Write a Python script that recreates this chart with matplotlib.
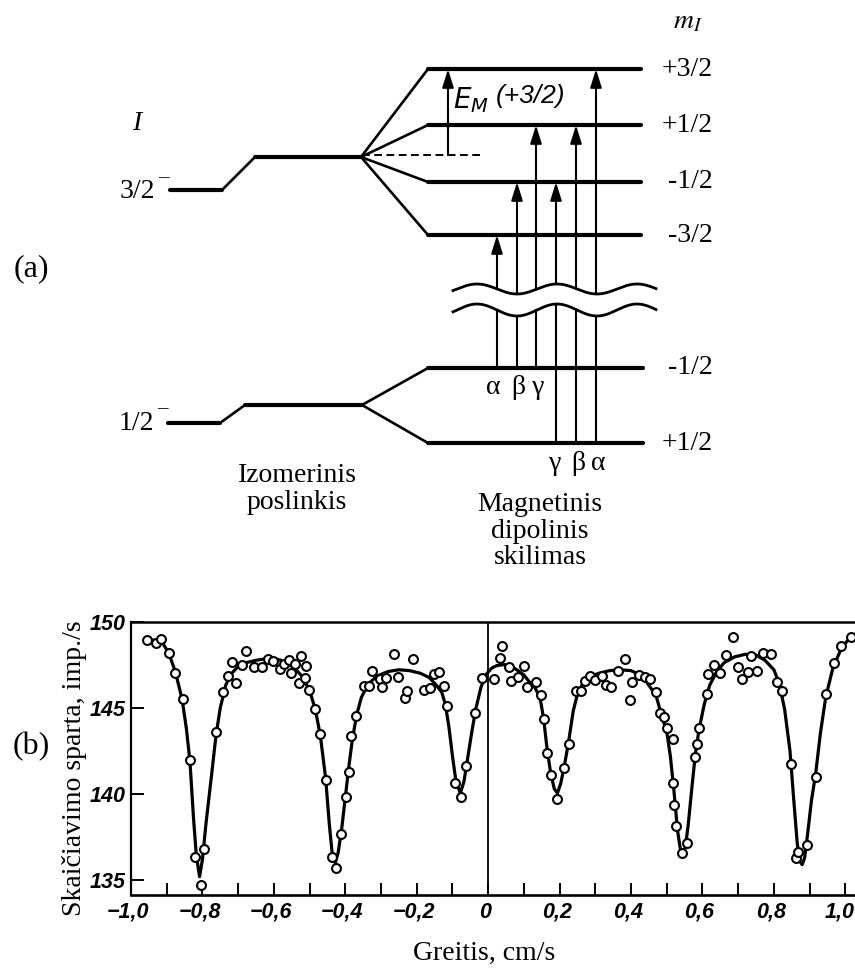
import numpy as np
import matplotlib
matplotlib.use("Agg")
import matplotlib.pyplot as plt
import matplotlib.transforms as mtransforms
from matplotlib.ticker import FixedLocator, FixedFormatter
from matplotlib.font_manager import FontProperties

plt.rcParams['font.family'] = ['Liberation Serif', 'DejaVu Serif']

# ---------------- Mössbauer spectrum (velocity, cm/s ; count rate, imp./s)
vel_pts = [-0.955, -0.931, -0.915, -0.894, -0.876, -0.855, -0.835, -0.822, -0.805, -0.796,
           -0.762, -0.742, -0.728, -0.717, -0.705, -0.690, -0.678, -0.656, -0.633, -0.616,
           -0.602, -0.582, -0.572, -0.558, -0.552, -0.540, -0.524, -0.529, -0.512, -0.510,
           -0.503, -0.484, -0.470, -0.453, -0.437, -0.425, -0.412, -0.399, -0.390, -0.384,
           -0.369, -0.349, -0.335, -0.325, -0.304, -0.297, -0.285, -0.265, -0.252, -0.232,
           -0.227, -0.211, -0.181, -0.164, -0.153, -0.139, -0.123, -0.116, -0.094, -0.076,
           -0.062, -0.038, -0.018, 0.015, 0.034, 0.040, 0.057, 0.064, 0.083, 0.101,
           0.110, 0.134, 0.147, 0.155, 0.166, 0.176, 0.194, 0.213, 0.226, 0.246,
           0.259, 0.271, 0.285, 0.299, 0.318, 0.329, 0.344, 0.363, 0.383, 0.402,
           0.397, 0.422, 0.439, 0.453, 0.469, 0.481, 0.493, 0.500, 0.517, 0.518,
           0.521, 0.526, 0.543, 0.556, 0.579, 0.584, 0.591, 0.612, 0.616, 0.632,
           0.649, 0.666, 0.686, 0.700, 0.711, 0.728, 0.736, 0.754, 0.770, 0.791,
           0.810, 0.823, 0.849, 0.863, 0.868, 0.893, 0.917, 0.945, 0.968, 0.989,
           1.015]
rate_pts = [148.93, 148.74, 148.97, 148.19, 147.00, 145.50, 141.97, 136.32, 134.72, 136.78,
            143.57, 145.90, 146.86, 147.67, 146.45, 147.48, 148.29, 147.38, 147.38, 147.80,
            147.73, 147.24, 147.53, 147.77, 147.00, 147.52, 148.00, 146.45, 146.70, 147.44,
            146.03, 144.91, 143.46, 140.81, 136.36, 135.68, 137.67, 139.80, 141.29, 143.36,
            144.54, 146.26, 146.26, 147.15, 146.67, 146.18, 146.74, 148.10, 146.76, 145.55,
            145.99, 147.82, 146.03, 146.12, 146.95, 147.09, 146.28, 145.10, 140.65, 139.80,
            141.64, 144.67, 146.70, 146.67, 147.87, 148.60, 147.34, 146.57, 146.80, 147.44,
            146.18, 146.47, 145.74, 144.33, 142.36, 141.10, 139.69, 141.48, 142.88, 145.99,
            145.99, 146.57, 146.84, 146.60, 146.86, 146.32, 146.22, 147.15, 147.80, 146.51,
            145.45, 146.90, 146.80, 146.67, 145.93, 144.67, 144.48, 143.84, 143.18, 140.61,
            139.36, 138.14, 136.55, 137.13, 142.16, 142.89, 143.80, 145.79, 146.95, 147.48,
            147.03, 148.06, 149.08, 147.38, 146.67, 147.05, 148.00, 147.15, 148.19, 148.10,
            146.51, 145.99, 141.73, 136.26, 136.61, 137.04, 140.96, 145.77, 147.57, 148.60,
            149.08]

fit_vel = [-0.955, -0.93, -0.91, -0.895, -0.876, -0.857, -0.845, -0.835, -0.825, -0.817,
           -0.808, -0.800, -0.79, -0.775, -0.762, -0.75, -0.735, -0.72, -0.70, -0.68,
           -0.65, -0.62, -0.60, -0.58, -0.56, -0.54, -0.52, -0.50, -0.484, -0.47,
           -0.455, -0.445, -0.437, -0.428, -0.420, -0.41, -0.40, -0.39, -0.38, -0.368,
           -0.355, -0.335, -0.31, -0.28, -0.25, -0.22, -0.19, -0.165, -0.145, -0.13,
           -0.12, -0.11, -0.10, -0.09, -0.078, -0.068, -0.058, -0.045, -0.035, -0.02,
           -0.005, 0.01, 0.025, 0.045, 0.065, 0.08, 0.10, 0.115, 0.13, 0.145,
           0.155, 0.165, 0.175, 0.185, 0.194, 0.203, 0.213, 0.225, 0.238, 0.25,
           0.265, 0.285, 0.31, 0.34, 0.37, 0.40, 0.42, 0.44, 0.455, 0.47,
           0.485, 0.50, 0.51, 0.52, 0.53, 0.538, 0.545, 0.552, 0.56, 0.57,
           0.58, 0.59, 0.605, 0.62, 0.64, 0.66, 0.69, 0.72, 0.75, 0.775,
           0.80, 0.815, 0.83, 0.845, 0.855, 0.865, 0.872, 0.879, 0.886, 0.895,
           0.905, 0.917, 0.93, 0.945, 0.965, 0.99, 1.015, 1.03]
fit_rate = [148.95, 148.90, 148.70, 148.20, 147.10, 145.50, 143.80, 141.90, 138.60, 136.40,
            135.20, 136.20, 138.30, 141.00, 143.40, 145.00, 146.30, 146.95, 147.40, 147.60,
            147.75, 147.85, 147.85, 147.75, 147.55, 147.25, 146.80, 146.00, 144.90, 143.40,
            140.90, 138.30, 136.60, 136.00, 136.60, 138.00, 139.80, 141.60, 143.20, 144.60,
            145.60, 146.40, 146.85, 147.10, 147.20, 147.15, 147.00, 146.75, 146.30, 145.90,
            145.20, 143.90, 142.20, 140.70, 140.05, 140.70, 142.00, 143.70, 144.90, 146.20,
            146.95, 147.30, 147.45, 147.50, 147.40, 147.20, 146.90, 146.50, 146.20, 145.60,
            144.40, 142.60, 141.20, 140.30, 140.05, 140.60, 141.60, 143.00, 144.80, 145.80,
            146.40, 146.80, 147.00, 147.15, 147.20, 147.15, 146.95, 146.60, 146.15, 145.70,
            144.60, 143.60, 142.20, 140.20, 137.90, 136.80, 136.55, 136.90, 138.20, 140.30,
            142.30, 143.70, 145.20, 146.30, 147.10, 147.60, 147.95, 148.10, 148.05, 147.75,
            147.20, 146.40, 144.90, 142.50, 139.80, 137.20, 136.10, 135.90, 136.30, 137.80,
            139.60, 141.20, 143.50, 145.60, 147.30, 148.50, 149.10, 149.30]

xtick_major = [-1.0, -0.8, -0.6, -0.4, -0.2, 0.0, 0.2, 0.4, 0.6, 0.8, 1.0]
xtick_labels = ["\u22121,0", "\u22120,8", "\u22120,6", "\u22120,4", "\u22120,2",
                "0", "0,2", "0,4", "0,6", "0,8", "1,0"]
xtick_minor = [-0.9, -0.7, -0.5, -0.3, -0.1, 0.1, 0.3, 0.5, 0.7, 0.9]
ytick_vals = [135, 140, 145, 150]
ytick_labels = ["135", "140", "145", "150"]

# ---------------- level scheme of the nucleus (pixel units of the drawing area)
excited_labels = ["+3/2", "+1/2", "-1/2", "-3/2"]
excited_y = [69, 125, 182, 235]
ground_labels = ["-1/2", "+1/2"]
ground_y = [368, 443]
trans_x = [497, 517, 536, 556, 576, 596]
trans_ground = [0, 0, 0, 1, 1, 1]
trans_excited = [3, 2, 1, 2, 1, 0]
greek_ground_first = ["\u03b1", "\u03b2", "\u03b3"]
greek_ground_second = ["\u03b3", "\u03b2", "\u03b1"]

LW_LEVEL = 3.0
LW_SLANT = 1.9
LW_ARROW = 1.5
FS = 20

fig = plt.figure(figsize=(8.55, 9.68), dpi=100)
fig.patch.set_facecolor('white')

ax = fig.add_axes([0, 0, 1, 1])
ax.set_xlim(0, 855)
ax.set_ylim(968, 0)
ax.axis('off')


def seg(xs, ys, lw):
    ax.plot(xs, ys, color='black', lw=lw, solid_capstyle='round',
            solid_joinstyle='round')


# excited state 3/2-
seg([170, 222], [190, 190], LW_LEVEL)
seg([222, 255], [190, 157], LW_SLANT)
seg([255, 361], [157, 157], LW_LEVEL)
for y in excited_y:
    seg([361, 428], [157, y], LW_SLANT)
    seg([428, 641], [y, y], LW_LEVEL)
ax.plot([362, 484], [155, 155], color='black', lw=1.4, ls=(0, (4, 2.3)))

# ground state 1/2-
seg([168, 220], [423, 423], LW_LEVEL)
seg([220, 245], [423, 405], LW_SLANT)
seg([245, 362], [405, 405], LW_LEVEL)
for y in ground_y:
    seg([362, 428], [405, y], LW_SLANT)
    seg([428, 643], [y, y], LW_LEVEL)


# break marks between the two states
def wave(x, centre, amp):
    return centre - amp * np.cos(2 * np.pi * (np.asarray(x) - 557) / 80.0)


wx = np.linspace(453, 656, 300)
ax.plot(wx, wave(wx, 289, 5), color='black', lw=2.0)
ax.plot(wx, wave(wx, 310, 6), color='black', lw=2.0)

arrow_kw = dict(arrowstyle='-|>,head_length=0.55,head_width=0.17', color='black',
                lw=LW_ARROW, shrinkA=0, shrinkB=0, mutation_scale=20)

# transitions
for x, g, e in zip(trans_x, trans_ground, trans_excited):
    ax.annotate('', xy=(x, excited_y[e]), xytext=(x, float(wave(x, 289, 5))),
                arrowprops=arrow_kw)
    ax.plot([x, x], [float(wave(x, 310, 6)), ground_y[g]], color='black', lw=LW_ARROW)

# magnetic energy of the +3/2 sublevel
ax.annotate('', xy=(448, excited_y[0]), xytext=(448, 155), arrowprops=arrow_kw)
ax.text(453, 100, r"$E_M$", fontsize=20, math_fontfamily='dejavusans',
        ha='left', va='center')
ax.text(496, 96, "(+3/2)", fontsize=19, family=['Liberation Sans', 'DejaVu Sans'],
        style='italic', ha='left', va='center')

# labels of the level scheme
for lab, y in zip(excited_labels, excited_y):
    ax.text(713, y, lab, fontsize=FS, ha='right', va='center')
for lab, y in zip(ground_labels, ground_y):
    ax.text(713, y, lab, fontsize=FS, ha='right', va='center')
ax.text(688, 22, r"$m_I$", fontsize=FS, math_fontfamily='stix', ha='center', va='center')
ax.text(137, 123, "I", fontsize=FS, style='italic', ha='center', va='center')
ax.text(155, 191, "3/2", fontsize=FS, ha='right', va='center')
ax.text(163, 178, "\u2013", fontsize=15, ha='center', va='center')
ax.text(154, 423, "1/2", fontsize=FS, ha='right', va='center')
ax.text(162, 409, "\u2013", fontsize=15, ha='center', va='center')
for lab, x in zip(greek_ground_first, [493, 518, 538]):
    ax.text(x, 388, lab, fontsize=FS, ha='center', va='center')
for lab, x in zip(greek_ground_second, [555, 578, 598]):
    ax.text(x, 463, lab, fontsize=FS, ha='center', va='center')
ax.text(297, 489, "Izomerinis\nposlinkis", fontsize=FS, ha='center', va='center',
        linespacing=1.1)
ax.text(540, 531, "Magnetinis\ndipolinis\nskilimas", fontsize=FS, ha='center',
        va='center', linespacing=1.1)
ax.text(31, 269, "(a)", fontsize=23, ha='center', va='center')

# ---------------- spectrum panel
axb = fig.add_axes([131 / 855, 73 / 968, 724 / 855, 273.5 / 968])
axb.set_xlim(-1.0, 1.027)
axb.set_ylim(134.14, 150)
axb.axvline(0, color='black', lw=1.3, zorder=1)
axb.plot(fit_vel, fit_rate, color='black', lw=2.3, zorder=2, solid_joinstyle='round')
axb.plot(vel_pts, rate_pts, 'o', ms=6.4, mfc='white', mec='black', mew=1.5, zorder=3)

axb.xaxis.set_major_locator(FixedLocator(xtick_major))
axb.xaxis.set_major_formatter(FixedFormatter(xtick_labels))
axb.xaxis.set_minor_locator(FixedLocator(xtick_minor))
axb.yaxis.set_major_locator(FixedLocator(ytick_vals))
axb.yaxis.set_major_formatter(FixedFormatter(ytick_labels))
axb.tick_params(which='both', direction='in', length=9, width=1.4, top=False,
                right=False, colors='black')
axb.tick_params(axis='x', pad=5)
axb.tick_params(axis='y', pad=4)
tick_fp = FontProperties(family=['Liberation Sans Narrow', 'Liberation Sans'],
                         style='italic', weight='bold', size=15.5)
for lbl in axb.get_xticklabels() + axb.get_yticklabels():
    lbl.set_fontproperties(tick_fp)

# x labels sit slightly left of their ticks; the last one ends at the figure edge
shift_left = mtransforms.ScaledTranslation(-3 / 100, 0, fig.dpi_scale_trans)
xlbls = axb.get_xticklabels()
for lbl in xlbls:
    lbl.set_transform(lbl.get_transform() + shift_left)
xlbls[-1].set_horizontalalignment('right')
xlbls[-1].set_transform(xlbls[-1].get_transform()
                        + mtransforms.ScaledTranslation(12 / 100, 0, fig.dpi_scale_trans))

axb.spines['right'].set_visible(False)
axb.spines['top'].set_linewidth(1.8)
axb.spines['left'].set_linewidth(1.6)
axb.spines['bottom'].set_linewidth(1.9)

fig.text(75 / 855, 1 - 768 / 968, "Skai\u010diavimo sparta, imp./s", fontsize=FS,
         rotation=90, ha='center', va='center')
fig.text(484 / 855, 1 - 953 / 968, "Greitis, cm/s", fontsize=FS, ha='center', va='center')
fig.text(31 / 855, 1 - 747 / 968, "(b)", fontsize=23, ha='center', va='center')

fig.savefig("out.png", dpi=100, facecolor='white')
